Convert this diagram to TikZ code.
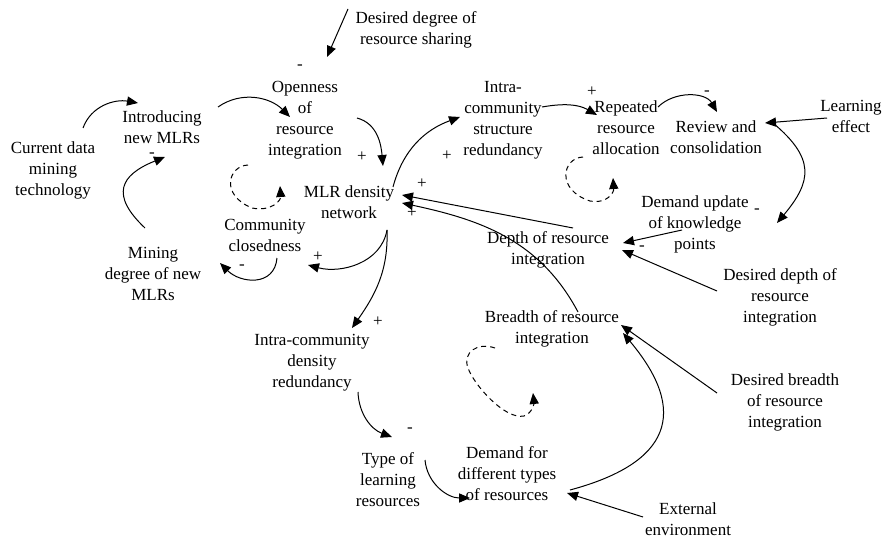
\documentclass[tikz,border=0pt]{standalone}
\usepackage{fontspec}
\setmainfont{Liberation Serif}
\usetikzlibrary{arrows.meta}
\begin{document}
\begin{tikzpicture}[x=0.5pt,y=0.5pt,
  font=\fontsize{8.5}{10.5}\selectfont,
  lbl/.style={align=center, inner sep=0pt},
  pol/.style={inner sep=0pt},
  link/.style={line width=0.5pt, -{Triangle[length=5.5pt,width=4.6pt]}},
  loopd/.style={line width=0.5pt, dash pattern=on 2.5pt off 2pt, -{Triangle[length=5.5pt,width=4.6pt]}}]
\useasboundingbox (0,0) rectangle (884,-540);
% nodes
\node[lbl] (dsh) at (416,-30) {Desired degree of\\resource sharing};
\node[lbl] (open) at (305,-120) {Openness\\of\\resource\\integration};
\node[lbl] (cur) at (53,-170) {Current data\\mining\\technology};
\node[lbl] (intro) at (162,-127) {Introducing\\new MLRs};
\node[lbl] (mining) at (153,-274) {Mining\\degree of new\\MLRs};
\node[lbl] (comm) at (265,-235) {Community\\closedness};
\node[lbl] (mlr) at (349,-202) {MLR density\\network};
\node[lbl] (ics) at (503,-120) {Intra-\\community\\structure\\redundancy};
\node[lbl] (rep) at (626,-128) {Repeated\\resource\\allocation};
\node[lbl] (rev) at (716,-137) {Review and\\consolidation};
\node[lbl] (learn) at (851,-116) {Learning\\effect};
\node[lbl] (dup) at (695,-224) {Demand update\\of knowledge\\points};
\node[lbl] (depth) at (548,-250) {Depth of resource\\integration};
\node[lbl] (ddepth) at (780,-297) {Desired depth of\\resource\\integration};
\node[lbl] (breadth) at (552,-329) {Breadth of resource\\integration};
\node[lbl] (dbreadth) at (785,-402) {Desired breadth\\of resource\\integration};
\node[lbl] (icd) at (312,-363) {Intra-community\\density\\redundancy};
\node[lbl] (type) at (388,-480) {Type of\\learning\\resources};
\node[lbl] (dem) at (507,-474) {Demand for\\different types\\of resources};
\node[lbl] (ext) at (688,-519) {External\\environment};
% polarity signs
\node[pol] (p1) at (300,-67) {-};
\node[pol] (p2) at (362,-157) {+};
\node[pol] (p3) at (447,-156) {+};
\node[pol] (p4) at (592,-92) {+};
\node[pol] (p5) at (707,-93) {-};
\node[pol] (p6) at (757,-211) {-};
\node[pol] (p7) at (642,-248) {-};
\node[pol] (p8) at (422,-184) {+};
\node[pol] (p9) at (412,-213) {+};
\node[pol] (p10) at (378,-322) {+};
\node[pol] (p11) at (318,-257) {+};
\node[pol] (p12) at (242,-267) {-};
\node[pol] (p13) at (410,-430) {-};
\node[pol] (p14) at (152,-155) {-};
% connectors
\draw[link] ([shift={(-68,21)}]dsh.center) -- ([shift={(22,63)}]open.center);
\draw[link] ([shift={(30,42)}]cur.center) to[out=70,in=170] ([shift={(-24,24)}]intro.center);
\draw[link] ([shift={(-8,46)}]mining.center) .. controls (110,-195) and (120,-175) .. ([shift={(3,-30)}]intro.center);
\draw[link] ([shift={(56,20)}]intro.center) to[out=35,in=135] ([shift={(-15,3)}]open.center);
\draw[link] ([shift={(52,2)}]open.center) to[out=-15,in=95] ([shift={(34,36)}]mlr.center);
\draw[link] ([shift={(44,15)}]mlr.center) to[out=75,in=200] ([shift={(-43,3)}]ics.center);
\draw[link] ([shift={(39,13)}]ics.center) to[out=10,in=150] ([shift={(-29,13)}]rep.center);
\draw[link] ([shift={(32,21)}]rep.center) to[out=45,in=120] ([shift={(1,25)}]rev.center);
\draw[link] ([shift={(-24,-2)}]learn.center) -- ([shift={(49,14)}]rev.center);
\draw[link] ([shift={(57,14)}]rev.center) to[out=-40,in=50,looseness=1.4] ([shift={(82,1)}]dup.center);
\draw[link] ([shift={(-13,-6)}]dup.center) -- ([shift={(75,7)}]depth.center);
\draw[link] ([shift={(-63,6)}]ddepth.center) -- ([shift={(74,0)}]depth.center);
\draw[link] ([shift={(25,22)}]depth.center) -- ([shift={(53,7)}]mlr.center);
\draw[link] ([shift={(26,17)}]breadth.center) to[out=118,in=-12] ([shift={(53,-1)}]mlr.center);
\draw[link] ([shift={(-68,9)}]dbreadth.center) -- ([shift={(69,4)}]breadth.center);
\draw[link] ([shift={(63,-16)}]dem.center) to[out=15,in=-50,looseness=1.6] ([shift={(71,-4)}]breadth.center);
\draw[link] ([shift={(-45,2)}]ext.center) -- ([shift={(60,-19)}]dem.center);
\draw[link] ([shift={(37,20)}]type.center) to[out=-85,in=180] ([shift={(-37,-24)}]dem.center);
\draw[link] ([shift={(46,-29)}]icd.center) to[out=-88,in=160] ([shift={(4,43)}]type.center);
\draw[link] ([shift={(38,-28)}]mlr.center) to[out=-88,in=55] ([shift={(40,35)}]icd.center);
\draw[link] ([shift={(38,-28)}]mlr.center) to[out=-100,in=-15] ([shift={(43,-30)}]comm.center);
\draw[link] ([shift={(12,-23)}]comm.center) to[out=-95,in=-45,looseness=1.3] ([shift={(67,11)}]mining.center);
% dashed loop markers
\draw[loopd] (248,-165) .. controls (228,-166) and (220,-195) .. (252,-208) .. controls (272,-212) and (281,-200) .. (280,-186);
\draw[loopd] (583,-157) .. controls (562,-158) and (556,-190) .. (590,-201) .. controls (608,-204) and (614,-192) .. (613,-178);
\draw[loopd] (495,-348) .. controls (478,-342) and (462,-352) .. (468,-368) .. controls (474,-385) and (505,-420) .. (524,-416) .. controls (533,-413) and (534,-402) .. (533,-393);
\end{tikzpicture}
\end{document}
